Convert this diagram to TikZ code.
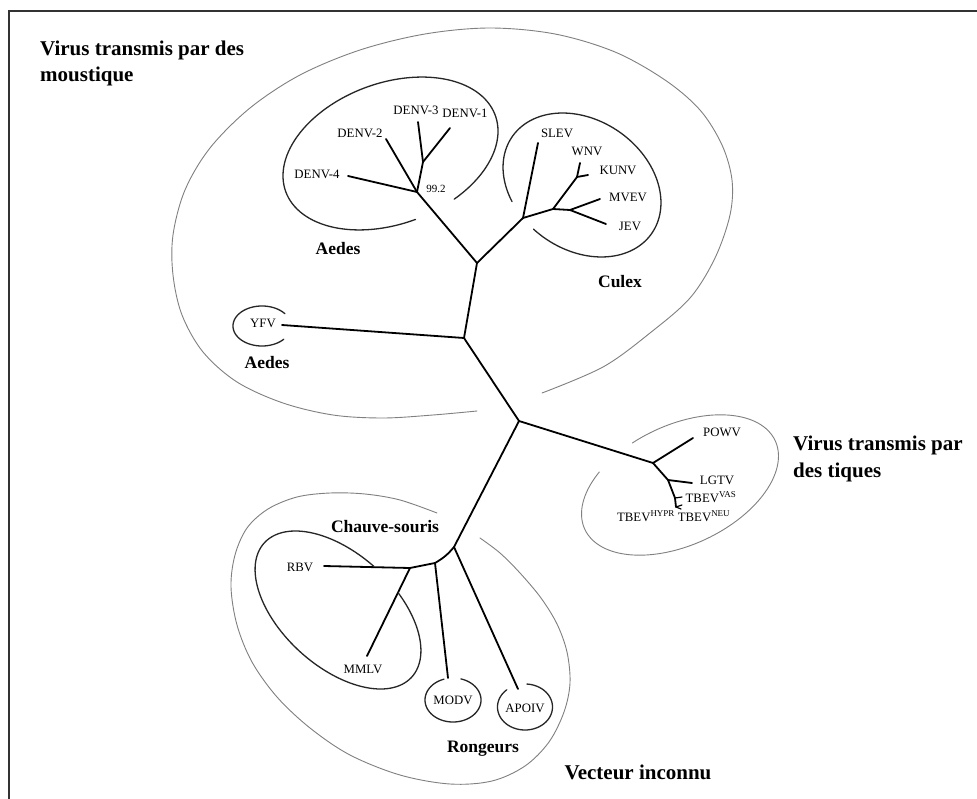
\documentclass[tikz,border=0pt]{standalone}
\usepackage{fontspec}
\setmainfont{Liberation Serif}
% tilted elliptic arc: style, cx, cy, a, b, phi, t1, t2  (y axis points down)
\newcommand{\myellarc}[8]{\draw[#1] plot[domain=#7:#8, samples=120, smooth, variable=\t]
  ({#2 + #4*cos(\t)*cos(#6) + #5*sin(\t)*sin(#6)}, {#3 - #4*cos(\t)*sin(#6) + #5*sin(\t)*cos(#6)});}
\begin{document}
\begin{tikzpicture}[x=1pt,y=-1pt,
  branch/.style={line width=1.8pt, black, line cap=round, line join=round},
  clade/.style={line width=1.3pt, black!85, line cap=round},
  group/.style={line width=0.9pt, black!50, line cap=round},
  frame/.style={line width=2pt, black!80},
  leaf/.style={font=\fontsize{12.8}{14}\selectfont, inner sep=0pt},
  boot/.style={font=\fontsize{11}{13}\selectfont, inner sep=0pt},
  host/.style={font=\fontsize{17.5}{20}\selectfont\bfseries, inner sep=0pt},
  big/.style={font=\fontsize{21}{26.5}\selectfont\bfseries, inner sep=0pt, align=left},
]
\useasboundingbox (0,0) rectangle (977,799);
\fill[white] (0,0) rectangle (977,799);

% frame
\coordinate (fTR) at (977,11);
\coordinate (fTL) at (9,11);
\coordinate (fBL) at (9,799);
\draw[frame] (fTR) -- (fTL) -- (fBL);

% ---------- tree coordinates ----------
\coordinate (A) at (477,263);
\coordinate (B) at (464,338);
\coordinate (C) at (519,421);
\coordinate (N99) at (417,192);
\coordinate (D31) at (423,162);
\coordinate (eD4) at (348,176);
\coordinate (eD2) at (386,139);
\coordinate (eD3) at (418,122);
\coordinate (eD1) at (450,128);
\coordinate (C1) at (523,218);
\coordinate (C2) at (553,209);
\coordinate (C2b) at (577,177);
\coordinate (eWNV) at (580,163);
\coordinate (eKUNV) at (588,175);
\coordinate (C3) at (570,210);
\coordinate (eMVEV) at (600,199);
\coordinate (eJEV) at (606,224);
\coordinate (eSLEV) at (538,143);
\coordinate (eYFV) at (282,325);
\coordinate (T) at (653,463);
\coordinate (ePOWV) at (693,438);
\coordinate (L) at (668,480);
\coordinate (eLGTV) at (692,483);
\coordinate (V) at (675,498);
\coordinate (eVAS) at (682,497);
\coordinate (H) at (676,507);
\coordinate (eNEU) at (682,505);
\coordinate (eHYPR) at (681,509);
\coordinate (D) at (454,547);
\coordinate (E) at (435,563);
\coordinate (F) at (410,568);
\coordinate (eAPOIV) at (518,689);
\coordinate (eMODV) at (448,678);
\coordinate (eRBV) at (324,566);
\coordinate (eMMLV) at (367,656);

% ---------- branches ----------
\draw[branch] (A) -- (B) -- (C);
\draw[branch] (B) -- (eYFV);
\draw[branch] (A) -- (N99);
\draw[branch] (N99) -- (eD4);
\draw[branch] (N99) -- (eD2);
\draw[branch] (N99) -- (D31);
\draw[branch] (D31) -- (eD3);
\draw[branch] (D31) -- (eD1);
\draw[branch] (A) -- (C1);
\draw[branch] (C1) -- (eSLEV);
\draw[branch] (C1) -- (C2) -- (C3);
\draw[branch] (C2) -- (C2b);
\draw[branch] (C2b) -- (eWNV);
\draw[branch] (C2b) -- (eKUNV);
\draw[branch] (C3) -- (eMVEV);
\draw[branch] (C3) -- (eJEV);
\draw[branch] (C) -- (T);
\draw[branch] (T) -- (ePOWV);
\draw[branch] (T) -- (L) -- (V) -- (H);
\draw[branch] (L) -- (eLGTV);
\draw[branch, line width=1.2pt] (V) -- (eVAS);
\draw[branch, line width=1.2pt] (H) -- (eNEU);
\draw[branch, line width=1.2pt] (H) -- (eHYPR);
\draw[branch] (C) -- (D);
\draw[branch] (D) to[bend left=10] (E);
\draw[branch] (E) -- (F);
\draw[branch] (D) -- (eAPOIV);
\draw[branch] (E) -- (eMODV);
\draw[branch] (F) -- (eRBV);
\draw[branch] (F) -- (eMMLV);

% ---------- group outlines ----------
% mosquito (gray)
\draw[group] plot[smooth, tension=0.55] coordinates {
 (542,393) (603,367) (650,333) (690,298) (715,258) (730,215) (732,180) (722,145)
 (700,110) (665,80) (615,52) (555,34) (490,28) (425,34) (360,50) (300,75)
 (250,108) (210,148) (185,190) (173,235) (173,275) (182,315) (203,352) (237,382)
 (283,403) (333,415) (383,418) (433,415) (477,411)};
% Aedes (dengue)
\myellarc{clade}{390.5}{153.5}{111.5}{70.5}{20}{89.5}{426.6}
% Culex
\myellarc{clade}{582}{185}{84.9}{64.9}{-34.7}{124.5}{460}
% YFV
\myellarc{clade}{262}{326}{29}{20}{0}{41.4}{322}
% ticks (gray)
\myellarc{group}{680}{485}{105}{60}{25}{256}{590}
% Chauve-souris
\myellarc{clade}{338}{610}{99.7}{56.4}{-42.3}{289.2}{628.4}
% vecteur inconnu (gray)
\draw[group] plot[smooth, tension=0.55] coordinates {
 (437,513) (400,500) (365,494) (330,493) (297,497) (268,509) (247,528) (235,555)
 (231,587) (237,625) (252,662) (277,697) (310,728) (350,755) (400,775) (450,784)
 (492,781) (525,766) (549,742) (564,712) (570,683) (567,652) (557,624) (541,598)
 (520,573) (500,553) (480,538)};
% MODV
\myellarc{clade}{453}{700}{28}{22}{0}{286.4}{611.2}
% APOIV
\myellarc{clade}{525}{707}{27.5}{23}{0}{274}{588.5}

% ---------- labels ----------
\node[leaf] (lD4) at (317,174) {DENV-4};
\node[leaf] (lD2) at (360,133) {DENV-2};
\node[leaf] (lD3) at (416,110) {DENV-3};
\node[leaf] (lD1) at (465,113) {DENV-1};
\node[boot] (l992) at (436,189) {99.2};
\node[leaf] (lSLEV) at (557,133) {SLEV};
\node[leaf] (lWNV) at (587,151) {WNV};
\node[leaf] (lKUNV) at (618,170) {KUNV};
\node[leaf] (lMVEV) at (628,197) {MVEV};
\node[leaf] (lJEV) at (630,226) {JEV};
\node[leaf] (lYFV) at (263,323) {YFV};
\node[leaf] (lPOWV) at (722,432) {POWV};
\node[leaf] (lLGTV) at (717,480) {LGTV};
\node[leaf] (lVAS) at (711,497) {TBEV\textsuperscript{VAS}};
\node[leaf] (lHYPR) at (646,516) {TBEV\textsuperscript{HYPR}};
\node[leaf] (lNEU) at (704,516) {TBEV\textsuperscript{NEU}};
\node[leaf] (lRBV) at (300,567) {RBV};
\node[leaf] (lMMLV) at (363,669) {MMLV};
\node[leaf] (lMODV) at (453,700) {MODV};
\node[leaf] (lAPOIV) at (525,708) {APOIV};

\node[host] (hAedes1) at (338,249) {Aedes};
\node[host] (hCulex) at (620,282) {Culex};
\node[host] (hAedes2) at (267,363) {Aedes};
\node[host] (hChauve) at (385,527) {Chauve-souris};
\node[host] (hRong) at (483,749) {Rongeurs};

\node[big, anchor=west] (tMous) at (40,63.5) {Virus transmis par des\\moustique};
\node[big, anchor=west] (tTiq) at (793,459) {Virus transmis par\\des tiques};
\node[big] (tInc) at (638,772) {Vecteur inconnu};
\end{tikzpicture}
\end{document}
